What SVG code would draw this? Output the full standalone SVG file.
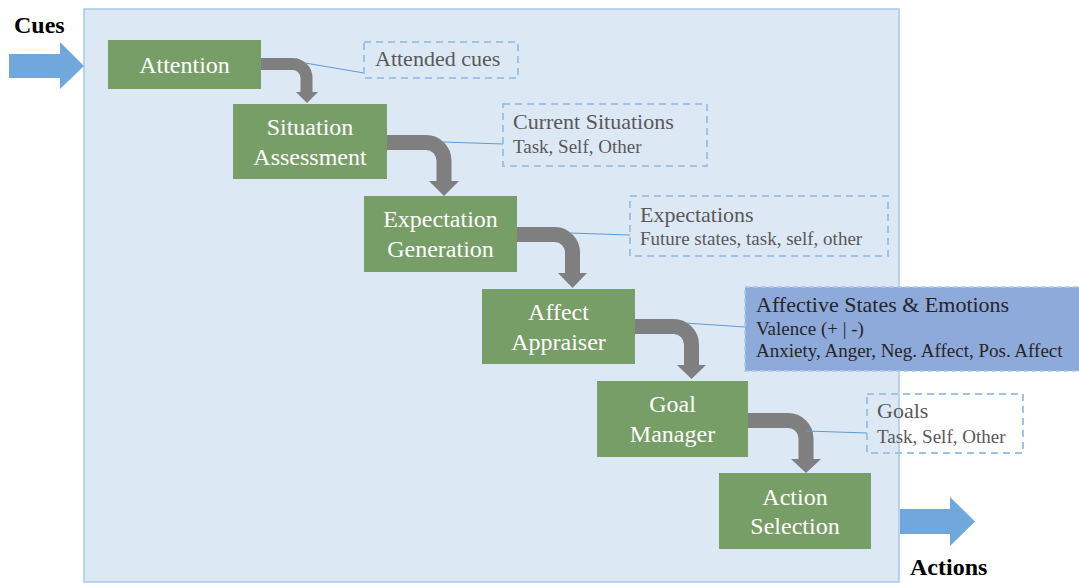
<svg xmlns="http://www.w3.org/2000/svg" width="1079" height="583" viewBox="0 0 1079 583" font-family="'Liberation Serif', 'Times New Roman', serif">
  <style>
    .panel { fill: #dde8f5; stroke: #a9c9ea; stroke-width: 1.5; }
    .step { fill: #779e67; }
    .step-label { font-size: 24px; fill: #ffffff; text-anchor: middle; }
    .note { fill: none; stroke: #9dc3e6; stroke-width: 2; stroke-dasharray: 7 5; }
    .note-filled { fill: #8eaadb; stroke: #a9c9ea; stroke-width: 1.5; stroke-dasharray: 5 3; }
    .note-title { font-size: 22px; fill: #595959; }
    .note-sub { font-size: 19px; fill: #595959; }
    .dark { fill: #262626; }
    .flow { fill: none; stroke: #7f7f7f; }
    .flow-head { fill: #7f7f7f; }
    .leader { fill: none; stroke: #5b9bd5; stroke-width: 1; }
    .io { fill: #70a7dc; }
    .io-label { font-size: 24px; font-weight: bold; fill: #000000; }
  </style>

  <!-- background panel -->
  <rect class="panel" x="84" y="9" width="815" height="573"/>

  <!-- input / output arrows -->
  <g id="cues">
    <polygon class="io" points="9,54 60,54 60,42 84,66 60,89 60,78 9,78"/>
    <text class="io-label" x="14" y="33" font-family="Liberation Serif">Cues</text>
  </g>
  <g id="actions">
    <polygon class="io" points="900,509 950,509 950,497 975,521.5 950,546 950,534 900,534"/>
    <text class="io-label" x="910" y="575" font-family="Liberation Serif">Actions</text>
  </g>

  <!-- process flow connectors -->
  <g id="connectors">
    <path class="flow" stroke-width="12" d="M261,64 H292 A14,14 0 0 1 306.5,78 V93"/>
    <polygon class="flow-head" points="296,92 318,92 307,103"/>

    <path class="flow" stroke-width="15" d="M387,142.5 H426 A18,18 0 0 1 444,160.5 V182"/>
    <polygon class="flow-head" points="429,181 459,181 444,196"/>

    <path class="flow" stroke-width="15" d="M517,234.5 H555 A18,18 0 0 1 572.5,252.5 V274"/>
    <polygon class="flow-head" points="558,273 587,273 572.5,288"/>

    <path class="flow" stroke-width="15" d="M635,326.5 H673.5 A18,18 0 0 1 691.5,344.5 V366"/>
    <polygon class="flow-head" points="677,365 706,365 691.5,379"/>

    <path class="flow" stroke-width="15" d="M748,420.5 H788 A18,18 0 0 1 806,438.5 V460"/>
    <polygon class="flow-head" points="791,459 821,459 806,473"/>

    <!-- leader lines to the annotation boxes -->
    <line class="leader" x1="305" y1="63" x2="364" y2="73"/>
    <line class="leader" x1="443" y1="142" x2="503" y2="144"/>
    <line class="leader" x1="570" y1="233" x2="630" y2="235"/>
    <line class="leader" x1="685" y1="323" x2="745" y2="327"/>
    <line class="leader" x1="806" y1="431" x2="867" y2="433"/>
  </g>

  <!-- process steps -->
  <g id="attention">
    <rect class="step" x="108" y="40" width="153" height="49"/>
    <text class="step-label" x="184.5" y="73">Attention</text>
  </g>
  <g id="situation-assessment">
    <rect class="step" x="233" y="104" width="154" height="75"/>
    <text class="step-label" x="310" y="135">Situation</text>
    <text class="step-label" x="310" y="165">Assessment</text>
  </g>
  <g id="expectation-generation">
    <rect class="step" x="364" y="196" width="153" height="76"/>
    <text class="step-label" x="440.5" y="227">Expectation</text>
    <text class="step-label" x="440.5" y="257">Generation</text>
  </g>
  <g id="affect-appraiser">
    <rect class="step" x="482" y="289" width="153" height="75"/>
    <text class="step-label" x="558.5" y="320">Affect</text>
    <text class="step-label" x="558.5" y="350">Appraiser</text>
  </g>
  <g id="goal-manager">
    <rect class="step" x="597" y="381" width="151" height="76"/>
    <text class="step-label" x="672.5" y="412">Goal</text>
    <text class="step-label" x="672.5" y="442">Manager</text>
  </g>
  <g id="action-selection">
    <rect class="step" x="719" y="473" width="152" height="76"/>
    <text class="step-label" x="795" y="505">Action</text>
    <text class="step-label" x="795" y="534">Selection</text>
  </g>

  <!-- annotations -->
  <g id="attended-cues">
    <rect class="note" x="364" y="42" width="154" height="36"/>
    <text class="note-title" x="375" y="66">Attended cues</text>
  </g>
  <g id="current-situations">
    <rect class="note" x="503" y="104" width="204" height="62"/>
    <text class="note-title" x="513" y="129">Current Situations</text>
    <text class="note-sub" x="513" y="153">Task, Self, Other</text>
  </g>
  <g id="expectations">
    <rect class="note" x="630" y="196" width="258" height="60"/>
    <text class="note-title" x="640" y="222">Expectations</text>
    <text class="note-sub" x="640" y="245">Future states, task, self, other</text>
  </g>
  <g id="affective-states">
    <rect class="note-filled" x="745" y="287" width="340" height="84"/>
    <text class="note-title dark" x="756" y="312">Affective States &amp; Emotions</text>
    <text class="note-sub dark" x="756" y="335">Valence (+ | -)</text>
    <text class="note-sub dark" x="756" y="357">Anxiety, Anger, Neg. Affect, Pos. Affect</text>
  </g>
  <g id="goals">
    <rect class="note" x="867" y="394" width="156" height="59"/>
    <text class="note-title" x="877" y="418">Goals</text>
    <text class="note-sub" x="877" y="443">Task, Self, Other</text>
  </g>
</svg>
